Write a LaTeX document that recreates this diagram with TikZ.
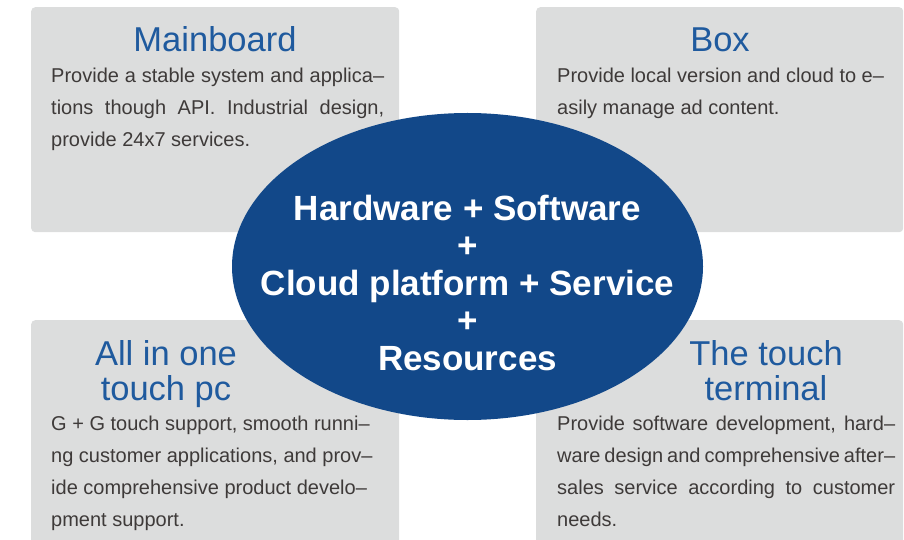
\documentclass[tikz,border=0pt]{standalone}
\usepackage{fontspec}
\setmainfont{Liberation Sans}
\usetikzlibrary{shapes.geometric}
\definecolor{boxgray}{HTML}{DCDDDD}
\definecolor{coreblue}{HTML}{124889}
\definecolor{titleblue}{HTML}{1F5A9E}
\definecolor{bodygray}{HTML}{3E3A39}
\newcommand{\jline}[2]{\hbox to #1{#2}}
\tikzset{graybox/.style={rectangle, rounded corners=4pt, fill=boxgray, draw=none, anchor=north west, inner sep=0pt},
titletext/.style={text=titleblue, font=\fontsize{34.5}{35}\selectfont, align=center, inner sep=0pt, anchor=base},
bodytext/.style={text=bodygray, font=\fontsize{20}{32}\selectfont, align=left, inner sep=0pt, anchor=base west},
coreellipse/.style={ellipse, fill=coreblue, draw=none, inner sep=0pt, minimum width=471pt, minimum height=307pt},}

\begin{document}
\begin{tikzpicture}[x=1pt, y=-1pt]
\useasboundingbox (0,0) rectangle (904,540);
\clip (0,0) rectangle (904,540);
% four boxes
\node [graybox, minimum width=368pt, minimum height=225pt] (mainbox) at (31,7) {};
\node [graybox, minimum width=367pt, minimum height=225pt] (boxbox) at (536,7) {};
\node [graybox, minimum width=368pt, minimum height=240pt] (aiobox) at (31,320) {};
\node [graybox, minimum width=367pt, minimum height=240pt] (touchbox) at (536,320) {};
% titles (anchored at the last baseline)
\node [titletext] (maintitle) at (215,52) {Mainboard};
\node [titletext] (boxtitle) at (720,52) {Box};
\node [titletext] (aiotitle) at (166,400) {All in one\\touch pc};
\node [titletext] (touchtitle) at (766,400) {The touch\\terminal};
% texts
\node [bodytext] (mainbody) at (51,147) {\jline{333pt}{Provide a stable system and applica–}\\\jline{333pt}{tions though API. Industrial design,}\\provide 24x7 services.};
\node [bodytext] (boxbody) at (557,115) {Provide local version and cloud to e–\\asily manage ad content.};
\node [bodytext] (aiobody) at (51,526) {G + G touch support, smooth runni–\\ng customer applications, and prov–\\ide comprehensive product develo–\\pment support.};
\node [bodytext] (touchbody) at (557,526) {\jline{338pt}{Provide software development, hard–}\\\jline{338pt}{ware design and comprehensive after–}\\\jline{338pt}{sales service according to customer}\\needs.};
% center
\node [coreellipse] (core) at (467.5,266.5) {};
\node [text=white, font=\bfseries\fontsize{35}{37.5}\selectfont, align=center, inner sep=0pt, anchor=base] (coretext) at (467.5,370) {Hardware + Software\\+\\Cloud platform + Service\\+\\Resources};
\end{tikzpicture}
\end{document}
